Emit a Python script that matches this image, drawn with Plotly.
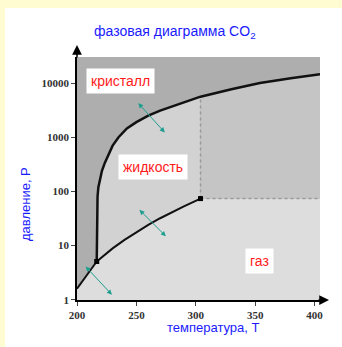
import numpy as np
import plotly.graph_objects as go

# ---- data ----
sub_T = [200, 205, 210, 216.6]
sub_P = [1.6, 2.3, 3.2, 5.1]

vap_T = [216.6, 230, 240, 250, 260, 270, 280, 290, 304]
vap_P = [5.1, 8.9, 12.8, 17.9, 24.2, 32.0, 41.6, 53.2, 73.8]

melt_T = [216.6, 216.8, 217.0, 217.3, 218.0, 219.3, 221.0, 223.5, 226.5, 230,
          235, 242, 250, 260, 270, 285, 298, 304, 330, 354, 380, 404.6]
melt_P = [5.1, 15, 40, 80, 120, 170, 240, 340, 480, 700,
          1000, 1450, 1900, 2500, 3100, 4050, 5000, 5600, 7700, 10000, 12300, 14500]

triple = (216.6, 5.1)
critical = (304, 73.8)

x_range = [200, 404.6]
y_range_log = [-0.003, 4.48]
P_low, P_high = 0.8, 40000

x_ticks = [200, 250, 300, 350, 400]
y_ticks = [1, 10, 100, 1000, 10000]
y_ticktext = ["1", "10", "100", "1000", "10000"]

region_labels = ["кристалл", "жидкость", "газ"]
region_T = [237, 264, 354]
region_P = [11100, 282, 5.3]

# double-headed arrows (tail T, tail P, head T, head P)
arr_T0 = [250.4, 251.3, 206.1]
arr_P0 = [4540, 48.7, 4.39]
arr_T1 = [273.9, 274.8, 229.4]
arr_P1 = [1225, 14.9, 1.24]

col_solid = "#aeaeae"
col_liquid = "#d2d2d2"
col_super = "#c5c5c5"
col_gas = "#dddddd"

fig = go.Figure()

# solid region (full background of plot)
fig.add_trace(go.Scatter(x=[x_range[0], x_range[0], x_range[1], x_range[1]],
                         y=[P_low, P_high, P_high, P_low], fill="toself",
                         fillcolor=col_solid, line=dict(width=0), mode="lines",
                         hoverinfo="skip"))

# gas region
gx = [x_range[0]] + sub_T + vap_T[1:] + [x_range[1], x_range[1]]
gy = [P_low] + sub_P + vap_P[1:] + [critical[1], P_low]
fig.add_trace(go.Scatter(x=gx, y=gy, fill="toself", fillcolor=col_gas,
                         line=dict(width=0), mode="lines", hoverinfo="skip"))

# liquid region
mi = melt_T.index(critical[0])
lx = melt_T[:mi + 1] + vap_T[::-1]
ly = melt_P[:mi + 1] + vap_P[::-1]
fig.add_trace(go.Scatter(x=lx, y=ly, fill="toself", fillcolor=col_liquid,
                         line=dict(width=0), mode="lines", hoverinfo="skip"))

# supercritical region
sx = [critical[0]] + melt_T[mi:] + [x_range[1]]
sy = [critical[1]] + melt_P[mi:] + [critical[1]]
fig.add_trace(go.Scatter(x=sx, y=sy, fill="toself", fillcolor=col_super,
                         line=dict(width=0), mode="lines", hoverinfo="skip"))

# dotted lines from critical point
fig.add_trace(go.Scatter(x=[critical[0], critical[0]], y=[critical[1], melt_P[mi]],
                         mode="lines", line=dict(color="#9a9a9a", width=1.5, dash="dot")))
fig.add_trace(go.Scatter(x=[critical[0], x_range[1]], y=[critical[1], critical[1]],
                         mode="lines", line=dict(color="#9a9a9a", width=1.5, dash="dot")))

# curves
fig.add_trace(go.Scatter(x=melt_T, y=melt_P, mode="lines",
                         line=dict(color="#111", width=2.5)))
fig.add_trace(go.Scatter(x=vap_T, y=vap_P, mode="lines",
                         line=dict(color="#111", width=2)))
fig.add_trace(go.Scatter(x=sub_T, y=sub_P, mode="lines",
                         line=dict(color="#111", width=2)))

# triple and critical points
fig.add_trace(go.Scatter(x=[triple[0], critical[0]], y=[triple[1], critical[1]],
                         mode="markers", marker=dict(symbol="square", size=5, color="#000")))

annotations = []
for lab, t, p in zip(region_labels, region_T, region_P):
    annotations.append(dict(x=t, y=np.log10(p), xref="x", yref="y", text=lab,
                            showarrow=False, bgcolor="white", borderpad=4,
                            xanchor="center", yanchor="middle",
                            font=dict(family="Liberation Sans", size=14, color="#ff1a1a")))

for t0, p0, t1, p1 in zip(arr_T0, arr_P0, arr_T1, arr_P1):
    annotations.append(dict(x=t1, y=np.log10(p1), ax=t0, ay=np.log10(p0),
                            xref="x", yref="y", axref="x", ayref="y", text="",
                            showarrow=True, arrowside="end+start", arrowhead=2,
                            startarrowhead=2, arrowsize=1, startarrowsize=1,
                            arrowwidth=1, arrowcolor="#1e9e8e"))

# axis arrow heads
annotations.append(dict(x=1.037, y=0, xref="paper", yref="paper", ax=-12, ay=0,
                        axref="pixel", ayref="pixel", text="", showarrow=True,
                        arrowhead=2, arrowsize=1.3, arrowwidth=1.5, arrowcolor="#000"))
annotations.append(dict(x=0, y=1.049, xref="paper", yref="paper", ax=0, ay=14,
                        axref="pixel", ayref="pixel", text="", showarrow=True,
                        arrowhead=2, arrowsize=1.3, arrowwidth=1.5, arrowcolor="#000"))

# titles
annotations.append(dict(x=0.403, y=1.103, xref="paper", yref="paper",
                        xanchor="center", yanchor="middle",
                        text="фазовая диаграмма CO<sub>2</sub>", showarrow=False,
                        font=dict(family="Liberation Sans", size=14, color="#1a1aff")))
annotations.append(dict(x=0.56, y=-0.112, xref="paper", yref="paper",
                        xanchor="center", yanchor="middle",
                        text="температура, T", showarrow=False,
                        font=dict(family="Liberation Sans", size=13, color="#1a1aff")))
annotations.append(dict(x=-0.214, y=0.395, xref="paper", yref="paper",
                        xanchor="center", yanchor="middle",
                        text="давление, P", showarrow=False, textangle=-90,
                        font=dict(family="Liberation Sans", size=13, color="#1a1aff")))

tickfont = dict(family="Liberation Serif", size=11, color="#333", weight="bold")

fig.update_layout(
    width=342, height=347,
    margin=dict(l=77, r=22, t=57, b=47, autoexpand=False),
    paper_bgcolor="#fffcd2",
    plot_bgcolor="rgba(0,0,0,0)",
    showlegend=False,
    annotations=annotations,
    shapes=[dict(type="rect", xref="paper", yref="paper", x0=-0.296, x1=1.3,
                 y0=-0.4, y1=1.2016, fillcolor="white", line=dict(width=0),
                 layer="below")],
    xaxis=dict(range=x_range, tickvals=x_ticks, ticks="outside", ticklen=4,
               tickcolor="#444", showgrid=False, zeroline=False, showline=True,
               linecolor="#000", linewidth=1.5, tickfont=tickfont),
    yaxis=dict(type="log", range=y_range_log, tickvals=y_ticks, ticktext=y_ticktext,
               ticks="outside", ticklen=4, tickcolor="#444", showgrid=False,
               zeroline=False, showline=True, linecolor="#000", linewidth=1.5,
               tickfont=tickfont),
)

fig.write_html("out.html", config={"displayModeBar": False},
               post_script="document.body.style.margin='0';document.body.style.overflow='hidden';")
